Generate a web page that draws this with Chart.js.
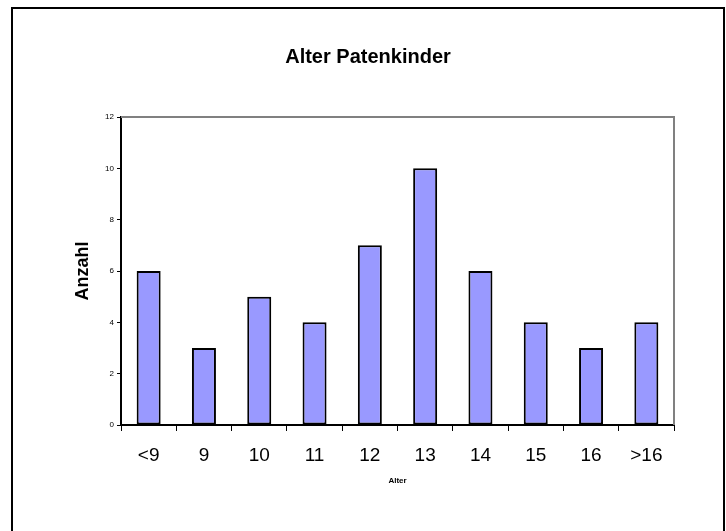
<!DOCTYPE html>
<html>
<head>
<meta charset="utf-8">
<script src="https://cdn.jsdelivr.net/npm/chart.js@4/dist/chart.umd.min.js"></script>
<style>
  html, body { margin: 0; padding: 0; background: #fff; }
  #wrap { width: 726px; height: 531px; }
</style>
</head>
<body>
<div id="wrap"><canvas id="c" width="726" height="531"></canvas></div>
<script>
// Age groups and how many godchildren fall into each
const categories = ['<9', '9', '10', '11', '12', '13', '14', '15', '16', '>16'];
const anzahl = [6, 3, 5, 4, 7, 10, 6, 4, 3, 4];
const yMin = 0, yMax = 12, yStep = 2;
const chartTitle = 'Alter Patenkinder';
const xTitle = 'Alter';
const yTitle = 'Anzahl';

const FONT = '"Liberation Sans", Arial, Helvetica, sans-serif';

// White page, outer frame, and the grey top/right edge of the plot area
const framePlugin = {
  id: 'framePlugin',
  beforeDraw(chart) {
    const ctx = chart.ctx;
    ctx.save();
    ctx.fillStyle = '#fff';
    ctx.fillRect(0, 0, chart.width, chart.height);
    ctx.restore();
  },
  afterDraw(chart) {
    const { ctx, chartArea: a } = chart;
    ctx.save();
    ctx.lineWidth = 2;
    ctx.strokeStyle = '#808080';
    ctx.beginPath();
    ctx.moveTo(a.left, a.top);
    ctx.lineTo(a.right, a.top);
    ctx.lineTo(a.right, a.bottom);
    ctx.stroke();
    ctx.strokeStyle = '#000';
    ctx.beginPath();
    ctx.moveTo(12, chart.height);
    ctx.lineTo(12, 8);
    ctx.lineTo(724, 8);
    ctx.lineTo(724, chart.height);
    ctx.stroke();
    ctx.restore();
  }
};

new Chart(document.getElementById('c'), {
  type: 'bar',
  data: {
    labels: categories,
    datasets: [{
      label: yTitle,
      data: anzahl,
      backgroundColor: '#9999FF',
      borderColor: '#000',
      borderWidth: 2,
      borderSkipped: false,
      barPercentage: 0.434,
      categoryPercentage: 1
    }]
  },
  options: {
    responsive: false,
    devicePixelRatio: 1,
    animation: false,
    layout: { padding: { left: 62, right: 52, top: 0, bottom: 0 } },
    plugins: {
      legend: { display: false },
      tooltip: { enabled: false },
      title: {
        display: true,
        text: chartTitle,
        color: '#000',
        font: { family: FONT, size: 20, weight: 'bold', lineHeight: 1.2 },
        padding: { top: 45, bottom: 48 }
      }
    },
    scales: {
      x: {
        afterFit(scale) { scale.height = 106; },
        grid: {
          offset: true,
          drawOnChartArea: false,
          drawTicks: true,
          tickLength: 6,
          color: '#000',
          lineWidth: 1
        },
        border: { display: true, color: '#000', width: 2 },
        ticks: {
          color: '#000',
          padding: 13,
          maxRotation: 0,
          font: { family: FONT, size: 19 }
        },
        title: {
          display: true,
          text: xTitle,
          color: '#000',
          font: { family: FONT, size: 8, weight: 'bold', lineHeight: 1.2 },
          padding: { top: 0, bottom: 45 }
        }
      },
      y: {
        min: yMin,
        max: yMax,
        afterFit(scale) { scale.width = 59; },
        grid: {
          drawOnChartArea: false,
          drawTicks: true,
          tickLength: 4,
          color: '#000',
          lineWidth: 1
        },
        border: { display: true, color: '#000', width: 2 },
        ticks: {
          stepSize: yStep,
          color: '#000',
          padding: 3,
          font: { family: FONT, size: 8 }
        },
        title: {
          display: true,
          text: yTitle,
          color: '#000',
          font: { family: FONT, size: 18, weight: 'bold', lineHeight: 1.2 },
          padding: { top: 10, bottom: 0 }
        }
      }
    }
  },
  plugins: [framePlugin]
});
</script>
</body>
</html>
